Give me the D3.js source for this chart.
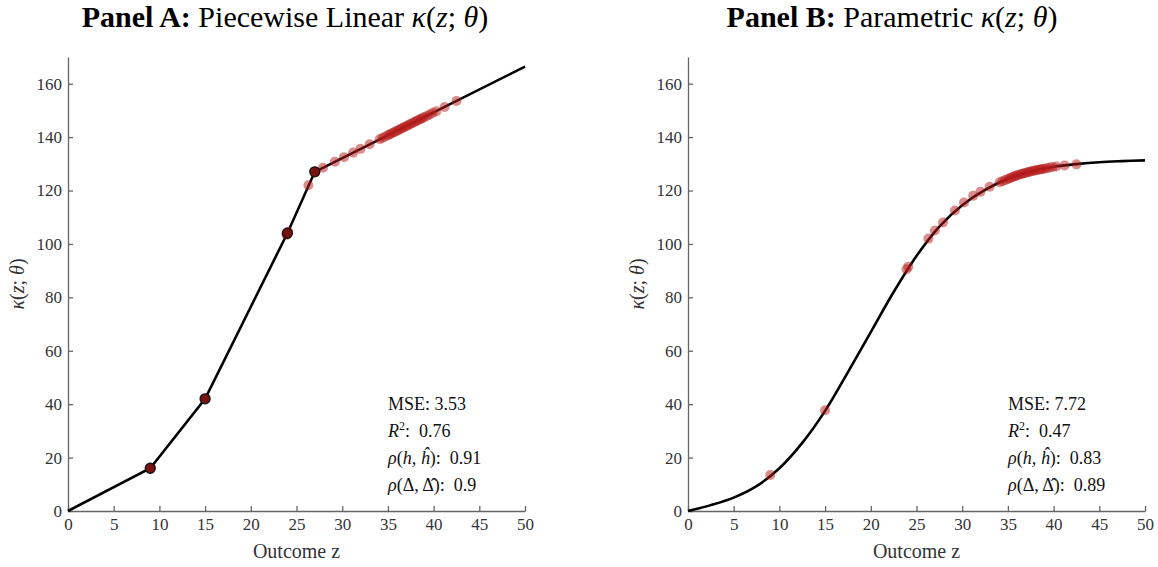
<!DOCTYPE html>
<html>
<head>
<meta charset="utf-8">
<script src="https://cdn.jsdelivr.net/npm/d3@7"></script>
<style>
body { margin: 0; background: #fff; }
text { font-family: "Liberation Serif", "DejaVu Serif", serif; fill: #222; white-space: pre; }
.axis path, .axis line { stroke: #666; stroke-width: 1.3; }
.axis text { font-size: 17px; fill: #333; }
</style>
</head>
<body>
<svg id="chart" width="1158" height="567"></svg>
<script>
// ticks
var zTicks = [0, 5, 10, 15, 20, 25, 30, 35, 40, 45, 50];
var kTicks = [0, 20, 40, 60, 80, 100, 120, 140, 160];

// panel A: piecewise linear knots
var knotZ = [0, 9, 15, 24, 27, 50];
var knotK = [0, 16, 42, 104, 127, 166.4];

// panel B: parametric curve
var curveZ = [0, 2.5, 5, 7.5, 10, 12.5, 15, 17.5, 20, 22.5, 25, 27.5, 30, 32.5, 35, 37.5, 40, 42.5, 45, 47.5, 50];
var curveK = [0, 2.2, 5.0, 9.3, 16.0, 25.5, 37.5, 52, 67, 82, 95.5, 106.5, 114.5, 120.2, 124.4, 127.1, 128.9, 129.9, 130.6, 131, 131.3];

// observed points (same z in both panels)
var obsZ = [9, 15, 23.9, 24.1, 26.3, 27.0, 27.9, 29.2, 30.2, 31.2, 32.0, 33.0, 34.1,
            34.4, 34.7, 35.0, 35.2, 35.4, 35.6, 35.8, 36.0, 36.2, 36.4, 36.6, 36.8,
            37.0, 37.2, 37.4, 37.6, 37.8, 38.0, 38.2, 38.4, 38.6, 38.8, 39.0, 39.3,
            39.6, 39.9, 40.3, 41.2, 42.5];
var obsA = [16, 42, 103.4, 104.6, 122, 127, 128.5, 130.8, 132.5, 134.2, 135.6, 137.3, 139.2,
            139.7, 140.2, 140.7, 141.0, 141.4, 141.7, 142.0, 142.4, 142.7, 143.1, 143.4, 143.8,
            144.1, 144.4, 144.8, 145.1, 145.5, 145.8, 146.2, 146.5, 146.8, 147.2, 147.5, 148.0,
            148.5, 149.1, 149.7, 151.3, 153.5];
var obsB = [13.5, 37.7, 90.5, 91.5, 102, 105, 108, 112.5, 115.5, 118, 119.5, 121.4, 123.1,
            123.5, 123.9, 124.3, 124.6, 124.9, 125.2, 125.4, 125.7, 125.9, 126.1, 126.3, 126.5,
            126.7, 126.9, 127.0, 127.2, 127.4, 127.5, 127.7, 127.8, 128.0, 128.1, 128.2, 128.4,
            128.6, 128.8, 129.0, 129.4, 129.8];

var statsA = ["3.53", "0.76", "0.91", "0.9"];
var statsB = ["7.72", "0.47", "0.83", "0.89"];

var svg = d3.select("#chart"),
    margin = {top: 57, bottom: 56},
    height = 567 - margin.top - margin.bottom,
    width = 457;

var y = d3.scaleLinear().domain([0, 170]).range([height, 0]);

function drawPanel(left, titleX, letter, name, lineZ, lineK, curve, obsK, stats, knots) {
  var g = svg.append("g").attr("transform", "translate(" + left + "," + margin.top + ")");
  var x = d3.scaleLinear().domain([0, 50]).range([0, width]);

  g.append("g")
      .attr("class", "axis")
      .attr("transform", "translate(0," + height + ")")
      .call(d3.axisBottom(x).tickValues(zTicks).tickSizeInner(-5).tickSizeOuter(0).tickPadding(7));

  g.append("g")
      .attr("class", "axis")
      .call(d3.axisLeft(y).tickValues(kTicks).tickSizeInner(-5).tickSizeOuter(0).tickPadding(6));

  var line = d3.line()
      .x(function(d, i) { return x(lineZ[i]); })
      .y(function(d) { return y(d); })
      .curve(curve);

  g.append("path")
      .datum(lineK)
      .attr("fill", "none")
      .attr("stroke", "#000")
      .attr("stroke-width", 2.6)
      .attr("d", line);

  g.selectAll(".obs")
      .data(obsK)
    .enter().append("circle")
      .attr("class", "obs")
      .attr("cx", function(d, i) { return x(obsZ[i]); })
      .attr("cy", function(d) { return y(d); })
      .attr("r", 5)
      .attr("fill", "#b81c1c")
      .attr("fill-opacity", 0.5);

  if (knots) {
    g.selectAll(".knot")
        .data(lineK.slice(1, lineK.length - 1))
      .enter().append("circle")
        .attr("class", "knot")
        .attr("cx", function(d, i) { return x(lineZ[i + 1]); })
        .attr("cy", function(d) { return y(d); })
        .attr("r", 5)
        .attr("fill", "#7a1111")
        .attr("stroke", "#111")
        .attr("stroke-width", 1.3);
  }

  // title
  var t = g.append("text")
      .attr("x", titleX)
      .attr("y", -30)
      .attr("text-anchor", "middle")
      .style("font-size", "30px")
      .style("fill", "#000");
  t.append("tspan").style("font-weight", "bold").text("Panel " + letter + ": ");
  t.append("tspan").text(name + " ");
  t.append("tspan").style("font-style", "italic").text("κ");
  t.append("tspan").text("(");
  t.append("tspan").style("font-style", "italic").text("z");
  t.append("tspan").text("; ");
  t.append("tspan").style("font-style", "italic").text("θ");
  t.append("tspan").text(")");

  // axis labels
  g.append("text")
      .attr("x", width / 2)
      .attr("y", height + 47)
      .attr("text-anchor", "middle")
      .style("font-size", "20px")
      .style("fill", "#333")
      .text("Outcome z");

  var yl = g.append("text")
      .attr("transform", "translate(-44," + (height / 2) + ") rotate(-90)")
      .attr("text-anchor", "middle")
      .style("font-size", "20px")
      .style("fill", "#333");
  yl.append("tspan").style("font-style", "italic").text("κ");
  yl.append("tspan").text("(");
  yl.append("tspan").style("font-style", "italic").text("z");
  yl.append("tspan").text("; ");
  yl.append("tspan").style("font-style", "italic").text("θ");
  yl.append("tspan").text(")");

  // stats box
  var sx = 320, sy = 353, dy = 27, fs = "18px";
  var s0 = g.append("text").attr("x", sx).attr("y", sy).style("font-size", fs).style("fill", "#111");
  s0.text("MSE: " + stats[0]);

  var s1 = g.append("text").attr("x", sx).attr("y", sy + dy).style("font-size", fs).style("fill", "#111");
  s1.append("tspan").style("font-style", "italic").text("R");
  s1.append("tspan").attr("dy", -7).style("font-size", "12px").text("2");
  s1.append("tspan").attr("dy", 7).text(":  " + stats[1]);

  var s2 = g.append("text").attr("x", sx).attr("y", sy + 2 * dy).style("font-size", fs).style("fill", "#111");
  s2.append("tspan").style("font-style", "italic").text("ρ");
  s2.append("tspan").text("(");
  s2.append("tspan").style("font-style", "italic").text("h, ĥ");
  s2.append("tspan").text("):  " + stats[2]);

  var s3 = g.append("text").attr("x", sx).attr("y", sy + 3 * dy).style("font-size", fs).style("fill", "#111");
  s3.append("tspan").style("font-style", "italic").text("ρ");
  s3.append("tspan").text("(Δ, Δ\u0302):  " + stats[3]);
}

drawPanel(68, 217, "A", "Piecewise Linear", knotZ, knotK, d3.curveLinear, obsA, statsA, true);
drawPanel(688, 204, "B", "Parametric", curveZ, curveK, d3.curveCatmullRom.alpha(0.5), obsB, statsB, false);
</script>
</body>
</html>
